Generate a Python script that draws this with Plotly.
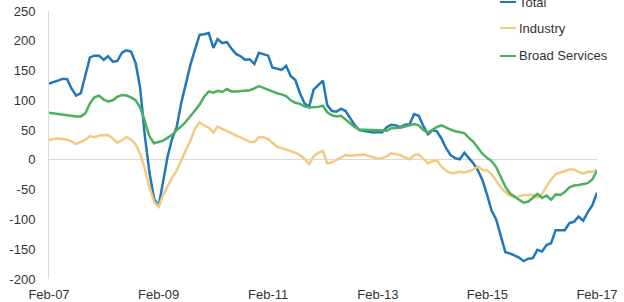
import pandas as pd
import plotly.graph_objects as go

months = pd.date_range("2007-02-01", periods=121, freq="MS")

total = [128, 130, 133, 136, 136, 120, 108, 112, 140, 172,
         175, 175, 168, 174, 165, 166, 180, 184, 182, 162,
         120, 40, -20, -65, -78, -40, 5, 35, 55, 95,
         130, 160, 185, 210, 211, 213, 188, 203, 196, 198,
         187, 178, 174, 168, 169, 161, 180, 178, 175, 155,
         153, 151, 158, 141, 134, 112, 95, 89, 118, 126,
         133, 92, 82, 81, 86, 82, 70, 58, 50, 49,
         48, 46, 47, 46, 55, 59, 58, 55, 59, 60,
         77, 74, 57, 43, 50, 48, 36, 20, 8, 3,
         1, 12, 3, -6, -18, -35, -60, -85, -100, -125,
         -155, -157, -160, -164, -170, -166, -165, -151, -154, -143,
         -140, -118, -118, -118, -106, -104, -95, -102, -88, -76,
         -55]

industry = [34, 35, 36, 35, 34, 31, 27, 30, 34, 40,
            38, 41, 42, 42, 36, 29, 33, 38, 34, 26,
            10, -15, -45, -70, -79, -60, -45, -30, -18, -2,
            15, 33, 52, 63, 58, 54, 46, 56, 52, 49,
            45, 41, 38, 34, 30, 30, 38, 38, 35, 28,
            22, 20, 18, 15, 12, 8, 2, -7, 6, 12,
            15, -6, -4, 0, 5, 8, 7, 7, 8, 9,
            7, 5, 2, 3, 6, 11, 10, 8, 4, 1,
            8, 9, 2, -6, -2, -1, -11, -18, -22, -22,
            -20, -21, -19, -16, -11, -17, -18, -24, -35, -46,
            -54, -60, -63, -61, -59, -59, -59, -63, -57, -45,
            -33, -24, -22, -19, -16, -16, -20, -23, -20, -20,
            -17]

services = [79, 78, 77, 76, 75, 73, 73, 73, 78, 95,
            105, 108, 101, 98, 100, 106, 109, 108, 105, 100,
            88, 65, 40, 28, 30, 32, 37, 42, 50, 56,
            64, 73, 83, 93, 106, 115, 113, 116, 114, 119,
            115, 115, 116, 117, 117, 120, 124, 121, 118, 114,
            112, 110, 107, 100, 96, 94, 90, 88, 88, 89,
            91, 80, 75, 73, 74, 68, 62, 55, 51, 50,
            50, 50, 50, 49, 49, 53, 53, 54, 56, 58,
            60, 58, 50, 46, 51, 55, 58, 54, 51, 48,
            47, 45, 37, 30, 20, 10, 3, -2, -12, -28,
            -45, -56, -62, -67, -72, -70, -64, -57, -64, -60,
            -67, -58, -59, -54, -46, -43, -42, -40, -39, -33,
            -18]

series_names = ["Total", "Industry", "Broad Services"]
series_colors = ["#2178b8", "#f0cb80", "#4caf5e"]
series_values = [total, industry, services]

y_ticks = [250, 200, 150, 100, 50, 0, -50, -100, -150, -200]
y_tick_labels = ["250", "200", "150", "100", "50", "0", "-50", "-100", "-150", "-200"]
x_ticks = pd.to_datetime(["2007-02-01", "2009-02-01", "2011-02-01", "2013-02-01",
                          "2015-02-01", "2017-02-01"])
x_tick_labels = ["Feb-07", "Feb-09", "Feb-11", "Feb-13", "Feb-15", "Feb-17"]

fig = go.Figure()
for name, color, vals in zip(series_names, series_colors, series_values):
    fig.add_trace(go.Scatter(x=months, y=vals, mode="lines", name=name,
                             line=dict(color=color, width=2.5), showlegend=False))

W, H = 624, 302
L, R, T, B = 49, 27, 11, 23
pw, ph = W - L - R, H - T - B

def px_x(x):
    return (x - L) / pw

def px_y(y):
    return (H - B - y) / ph

legend_rows = [2, 28, 56]
shapes = []
annotations = []
for name, color, yy in zip(series_names, series_colors, legend_rows):
    shapes.append(dict(type="line", xref="paper", yref="paper",
                       x0=px_x(500), x1=px_x(516), y0=px_y(yy), y1=px_y(yy),
                       line=dict(color=color, width=2)))
    annotations.append(dict(xref="paper", yref="paper", x=px_x(517), y=px_y(yy),
                            xanchor="left", yanchor="middle", text=name, showarrow=False,
                            font=dict(size=13, color="#333333")))

fig.update_layout(
    template="none",
    width=W, height=H, autosize=False,
    margin=dict(l=L, r=R, t=T, b=B, pad=0, autoexpand=False),
    paper_bgcolor="white", plot_bgcolor="white",
    showlegend=False,
    font=dict(family="Liberation Sans, Arial, sans-serif", size=13, color="#333333"),
    shapes=shapes, annotations=annotations,
    xaxis=dict(range=[months[0], months[-1]], tickvals=x_ticks, ticktext=x_tick_labels,
               showgrid=False, zeroline=False, showline=False, ticks="", automargin=False,
               ticklabelstandoff=6, tickfont=dict(size=13, color="#333333")),
    yaxis=dict(range=[-200, 250], tickvals=y_ticks, ticktext=y_tick_labels,
               showgrid=False, zeroline=True, zerolinecolor="#d9d9d9", zerolinewidth=1,
               showline=True, linecolor="#d9d9d9", linewidth=1, ticks="", automargin=False,
               ticklabelstandoff=10, tickfont=dict(size=13, color="#333333")),
)

fig.write_html("out.html", config={"displayModeBar": False},
               post_script="document.body.style.margin='0';")
